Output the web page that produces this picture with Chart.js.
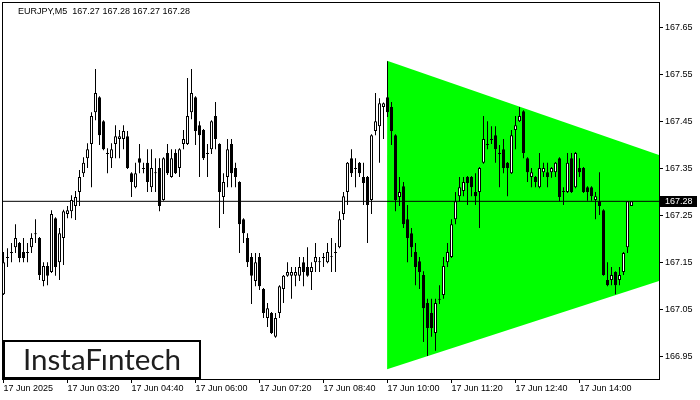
<!DOCTYPE html>
<html lang="en">
<head>
<meta charset="UTF-8">
<title>EURJPY,M5</title>
<style>
    html, body { margin: 0; padding: 0; background: #fff; }
    #wrap { width: 700px; height: 400px; }
</style>
<script src="https://cdn.jsdelivr.net/npm/chart.js"></script>
</head>
<body>
<div id="wrap"><canvas id="chart" width="700" height="400"></canvas></div>
<script>
// EURJPY M5 bars, 02:00 .. 15:05
const symbolTitle = 'EURJPY,M5  167.27 167.28 167.27 167.28';

const opens = [
    167.082, 167.161, 167.170, 167.182, 167.191, 167.172, 167.170, 167.182, 167.210, 167.202,
    167.110, 167.142, 167.129, 167.244, 167.150, 167.202, 167.253, 167.259, 167.270, 167.300,
    167.340, 167.372, 167.402, 167.470, 167.502, 167.451, 167.383, 167.372, 167.402, 167.413,
    167.413, 167.419, 167.340, 167.310, 167.372, 167.351, 167.362, 167.310, 167.340, 167.351,
    167.283, 167.383, 167.332, 167.383, 167.351, 167.402, 167.402, 167.470, 167.502, 167.442,
    167.432, 167.383, 167.391, 167.462, 167.402, 167.289, 167.332, 167.402, 167.351, 167.321,
    167.242, 167.202, 167.161, 167.110, 167.161, 167.093, 167.031, 167.042, 166.991, 167.042,
    167.093, 167.121, 167.121, 167.121, 167.121, 167.150, 167.140, 167.129, 167.150, 167.150,
    167.161, 167.150, 167.161, 167.172, 167.182, 167.253, 167.300, 167.372, 167.351, 167.362,
    167.332, 167.332, 167.283, 167.430, 167.440, 167.481, 167.502, 167.481, 167.421, 167.289,
    167.312, 167.242, 167.212, 167.172, 167.152, 167.123, 167.063, 167.042, 166.999, 167.072,
    167.080, 167.150, 167.161, 167.242, 167.291, 167.302, 167.332, 167.332, 167.300, 167.300,
    167.362, 167.402, 167.413, 167.421, 167.383, 167.391, 167.362, 167.340, 167.432, 167.451,
    167.472, 167.372, 167.332, 167.332, 167.310, 167.342, 167.342, 167.342, 167.342, 167.372,
    167.302, 167.300, 167.372, 167.310, 167.351, 167.351, 167.310, 167.310, 167.283, 167.280,
    167.261, 167.112, 167.112, 167.129, 167.112, 167.129, 167.182, 167.270
];
const highs = [
    167.172, 167.180, 167.191, 167.231, 167.193, 167.202, 167.191, 167.212, 167.242, 167.204,
    167.150, 167.150, 167.261, 167.246, 167.223, 167.262, 167.270, 167.293, 167.302, 167.347,
    167.374, 167.404, 167.470, 167.562, 167.504, 167.453, 167.393, 167.404, 167.442, 167.432,
    167.442, 167.430, 167.342, 167.362, 167.402, 167.362, 167.391, 167.391, 167.372, 167.372,
    167.374, 167.402, 167.391, 167.391, 167.393, 167.432, 167.543, 167.562, 167.504, 167.451,
    167.434, 167.402, 167.453, 167.492, 167.404, 167.340, 167.413, 167.413, 167.362, 167.323,
    167.244, 167.212, 167.170, 167.170, 167.170, 167.095, 167.063, 167.044, 167.042, 167.101,
    167.123, 167.150, 167.140, 167.140, 167.161, 167.161, 167.182, 167.150, 167.191, 167.161,
    167.170, 167.191, 167.202, 167.191, 167.259, 167.300, 167.364, 167.391, 167.372, 167.364,
    167.362, 167.334, 167.423, 167.511, 167.500, 167.491, 167.579, 167.492, 167.423, 167.332,
    167.321, 167.272, 167.223, 167.191, 167.161, 167.131, 167.072, 167.072, 167.072, 167.101,
    167.161, 167.191, 167.242, 167.300, 167.332, 167.332, 167.334, 167.334, 167.340, 167.353,
    167.462, 167.451, 167.440, 167.440, 167.400, 167.413, 167.364, 167.432, 167.462, 167.481,
    167.474, 167.374, 167.351, 167.334, 167.383, 167.362, 167.362, 167.353, 167.364, 167.374,
    167.310, 167.383, 167.383, 167.385, 167.372, 167.353, 167.312, 167.312, 167.300, 167.342,
    167.263, 167.150, 167.140, 167.131, 167.140, 167.172, 167.280, 167.280
];
const lows = [
    167.080, 167.140, 167.150, 167.170, 167.150, 167.150, 167.150, 167.170, 167.191, 167.112,
    167.099, 167.101, 167.127, 167.121, 167.112, 167.144, 167.244, 167.244, 167.240, 167.270,
    167.332, 167.351, 167.310, 167.453, 167.400, 167.389, 167.340, 167.351, 167.372, 167.372,
    167.391, 167.349, 167.289, 167.308, 167.340, 167.340, 167.300, 167.300, 167.300, 167.259,
    167.281, 167.336, 167.330, 167.338, 167.332, 167.391, 167.400, 167.455, 167.400, 167.332,
    167.368, 167.332, 167.381, 167.391, 167.223, 167.253, 167.310, 167.310, 167.310, 167.170,
    167.191, 167.140, 167.061, 167.099, 167.091, 167.031, 167.012, 166.997, 166.989, 167.031,
    167.063, 167.119, 167.072, 167.099, 167.110, 167.099, 167.119, 167.091, 167.129, 167.129,
    167.140, 167.148, 167.129, 167.129, 167.180, 167.240, 167.272, 167.332, 167.310, 167.332,
    167.272, 167.191, 167.253, 167.421, 167.362, 167.413, 167.460, 167.400, 167.259, 167.270,
    167.223, 167.150, 167.161, 167.101, 167.093, 166.980, 166.950, 166.991, 166.961, 167.061,
    167.072, 167.140, 167.159, 167.231, 167.280, 167.291, 167.272, 167.291, 167.272, 167.223,
    167.360, 167.391, 167.402, 167.362, 167.310, 167.340, 167.291, 167.338, 167.391, 167.449,
    167.372, 167.321, 167.310, 167.310, 167.308, 167.332, 167.310, 167.330, 167.332, 167.280,
    167.272, 167.298, 167.298, 167.308, 167.332, 167.298, 167.281, 167.281, 167.242, 167.251,
    167.121, 167.099, 167.101, 167.082, 167.101, 167.123, 167.170, 167.270
];
const closes = [
    167.150, 167.159, 167.172, 167.202, 167.159, 167.159, 167.172, 167.202, 167.212, 167.123,
    167.142, 167.121, 167.253, 167.140, 167.212, 167.259, 167.261, 167.283, 167.289, 167.332,
    167.362, 167.391, 167.462, 167.511, 167.421, 167.391, 167.381, 167.391, 167.419, 167.419,
    167.430, 167.351, 167.321, 167.340, 167.362, 167.349, 167.321, 167.351, 167.342, 167.270,
    167.372, 167.340, 167.372, 167.340, 167.391, 167.413, 167.462, 167.511, 167.430, 167.421,
    167.372, 167.381, 167.451, 167.413, 167.300, 167.321, 167.391, 167.340, 167.332, 167.231,
    167.212, 167.150, 167.121, 167.150, 167.099, 167.042, 167.052, 166.999, 167.031, 167.099,
    167.121, 167.129, 167.129, 167.129, 167.140, 167.129, 167.121, 167.140, 167.161, 167.152,
    167.159, 167.172, 167.163, 167.170, 167.242, 167.291, 167.362, 167.340, 167.349, 167.340,
    167.319, 167.272, 167.421, 167.451, 167.489, 167.489, 167.470, 167.430, 167.283, 167.300,
    167.231, 167.202, 167.182, 167.140, 167.129, 167.052, 167.010, 167.010, 167.063, 167.070,
    167.142, 167.172, 167.231, 167.280, 167.310, 167.321, 167.319, 167.310, 167.291, 167.351,
    167.413, 167.400, 167.411, 167.391, 167.381, 167.351, 167.351, 167.421, 167.442, 167.462,
    167.383, 167.342, 167.342, 167.321, 167.351, 167.351, 167.332, 167.351, 167.362, 167.289,
    167.300, 167.362, 167.300, 167.383, 167.342, 167.300, 167.300, 167.291, 167.291, 167.270,
    167.123, 167.101, 167.123, 167.101, 167.123, 167.170, 167.280, 167.280
];

const lastPrice = 167.28;

// time labels, one every 16 bars (80 minutes)
const tickLabels = ['17 Jun 2025', '17 Jun 03:20', '17 Jun 04:40', '17 Jun 06:00', '17 Jun 07:20',
    '17 Jun 08:40', '17 Jun 10:00', '17 Jun 11:20', '17 Jun 12:40', '17 Jun 14:00'];
const tickEvery = 16;
const yTicks = [166.95, 167.05, 167.15, 167.25, 167.35, 167.45, 167.55, 167.65];

// symmetrical triangle pattern (bar index / price)
const triangleX = [95.9, 163.875];
const triangleTop = [167.580, 167.379];
const triangleBottom = [166.922, 167.110];

const xMin = -0.125, xMax = 163.875;
const yMin = 166.901, yMax = 167.703;

const font9 = { family: 'Liberation Sans', size: 9 };

const bodies = opens.map((o, i) => ({ x: i, y: [o, closes[i]] }));
const wicks = opens.map((o, i) => ({ x: i, y: [lows[i], highs[i]] }));

// frame, symbol title, price box and logo
const overlay = {
    id: 'overlay',
    afterDraw(chart) {
        const ctx = chart.ctx;
        const a = chart.chartArea;
        const yScale = chart.scales.y;
        ctx.save();

        ctx.strokeStyle = '#000';
        ctx.lineWidth = 1;
        ctx.strokeRect(a.left - 0.5, a.top - 0.5, a.right - a.left + 1, a.bottom - a.top + 1);

        ctx.fillStyle = '#000';
        ctx.font = '9px "Liberation Sans"';
        ctx.textBaseline = 'alphabetic';
        ctx.textAlign = 'left';
        ctx.fillText(symbolTitle, 18, 14);

        // current price box on the axis
        const py = Math.round(yScale.getPixelForValue(lastPrice));
        ctx.fillStyle = '#000';
        ctx.fillRect(a.right + 1, py - 5, 37, 11);
        ctx.fillStyle = '#fff';
        ctx.textBaseline = 'middle';
        ctx.fillText(lastPrice.toFixed(2), a.right + 6, py + 0.5);

        // logo
        ctx.fillStyle = '#fff';
        ctx.fillRect(4, 341, 196, 37);
        ctx.lineWidth = 2;
        ctx.strokeStyle = '#000';
        ctx.strokeRect(4, 341, 196, 37);
        ctx.font = '28px Lato';
        const w = ctx.measureText('InstaFıntech').width;
        const size = 28 * 158 / w;
        ctx.font = size.toFixed(1) + 'px Lato';
        ctx.fillStyle = '#1e1e1e';
        ctx.textAlign = 'center';
        ctx.textBaseline = 'alphabetic';
        ctx.fillText('InstaFıntech', 102, 369.5);
        ctx.restore();
    }
};

const ctx = document.getElementById('chart').getContext('2d');
new Chart(ctx, {
    type: 'bar',
    data: {
        datasets: [{
            type: 'line',
            data: triangleX.map((x, i) => ({ x: x, y: triangleTop[i] })),
            borderWidth: 0,
            pointRadius: 0,
            fill: false,
            order: 3
        }, {
            type: 'line',
            data: triangleX.map((x, i) => ({ x: x, y: triangleBottom[i] })),
            borderWidth: 0,
            pointRadius: 0,
            fill: '-1',
            backgroundColor: '#00ff00',
            order: 3
        }, {
            type: 'line',
            data: [{ x: xMin, y: lastPrice }, { x: xMax, y: lastPrice }],
            borderColor: '#000',
            borderWidth: 1,
            pointRadius: 0,
            order: 2
        }, {
            data: wicks,
            backgroundColor: '#000',
            barThickness: 1,
            grouped: false,
            inflateAmount: 0,
            order: 1
        }, {
            data: bodies,
            backgroundColor: c => closes[c.dataIndex] >= opens[c.dataIndex] ? '#fff' : '#000',
            borderColor: '#000',
            borderWidth: 1,
            borderSkipped: false,
            barThickness: 3,
            grouped: false,
            inflateAmount: 0,
            order: 0
        }]
    },
    options: {
        responsive: false,
        animation: false,
        layout: { padding: { left: 3, top: 3, right: 0, bottom: 0 } },
        plugins: {
            legend: { display: false },
            tooltip: { enabled: false }
        },
        scales: {
            x: {
                type: 'linear',
                position: 'bottom',
                min: xMin,
                max: xMax,
                offset: false,
                grid: { offset: false, drawOnChartArea: false, drawTicks: true, tickLength: 4, color: '#000' },
                border: { display: false },
                afterBuildTicks: s => { s.ticks = tickLabels.map((t, k) => ({ value: k * tickEvery })); },
                afterFit: s => { s.height = 21; s.paddingLeft = 0; s.paddingRight = 0; },
                ticks: {
                    callback: (v, i) => tickLabels[i],
                    align: 'start',
                    maxRotation: 0,
                    autoSkip: false,
                    padding: 0,
                    color: '#000',
                    font: font9
                }
            },
            y: {
                type: 'linear',
                position: 'right',
                min: yMin,
                max: yMax,
                beginAtZero: false,
                grid: { drawOnChartArea: false, drawTicks: true, tickLength: 4, color: '#000' },
                border: { display: false },
                afterBuildTicks: s => { s.ticks = yTicks.map(v => ({ value: v })); },
                // the axis labels sit well inside the plot height, so no extra room is needed
                afterFit: s => { s.width = 41; s.paddingTop = 0; s.paddingBottom = 0; },
                ticks: {
                    callback: v => v.toFixed(2),
                    padding: 2,
                    color: '#000',
                    font: font9
                }
            }
        }
    },
    plugins: [overlay]
});
</script>
</body>
</html>
